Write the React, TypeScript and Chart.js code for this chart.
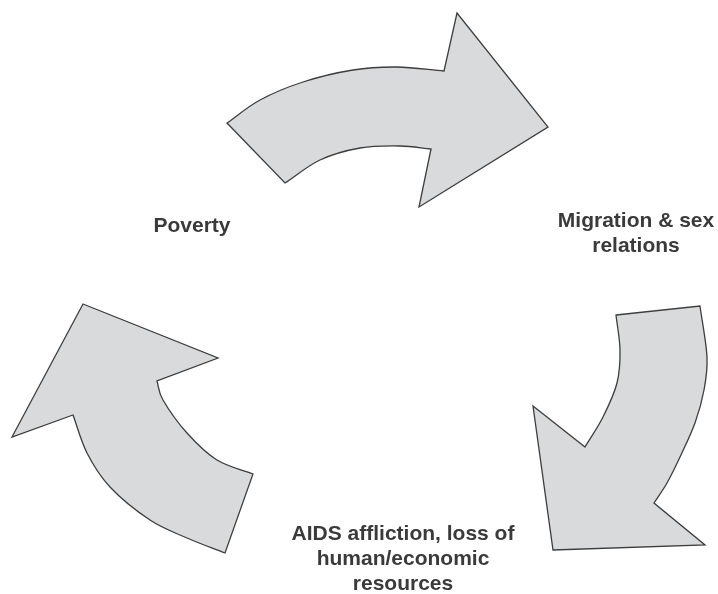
import React, { useEffect, useRef } from "react";
import { Chart, registerables } from "chart.js";

Chart.register(...registerables);

// Outline vertices of each arrow (diagram units = pixels of the reference)
const topArrowX = [227, 260, 303, 353, 397, 444, 457, 548, 419, 431, 400, 360, 320, 285];
const topArrowY = [123, 100, 82, 70, 67, 71, 13, 127, 207, 149, 146, 148, 160, 183];
const topArrowSmooth = [0, 1, 1, 1, 1, 0, 0, 0, 0, 0, 1, 1, 1, 0];

const rightArrowX = [616, 700, 707, 704, 695, 680, 667, 654, 705, 553, 533, 585, 603, 617, 620];
const rightArrowY = [315, 306, 357, 390, 423, 457, 483, 503, 545, 550, 406, 447, 417, 383, 350];
const rightArrowSmooth = [0, 0, 1, 1, 1, 1, 1, 0, 0, 0, 0, 0, 1, 1, 1];

const leftArrowX = [83, 218, 157, 163, 187, 217, 253, 225, 187, 150, 110, 87, 73, 12];
const leftArrowY = [304, 358, 381, 400, 433, 460, 474, 553, 538, 520, 487, 453, 415, 437];
const leftArrowSmooth = [0, 0, 0, 1, 1, 1, 0, 0, 1, 1, 1, 1, 0, 0];

// Text labels
const povertyLines = ["Poverty"];
const migrationLines = ["Migration & sex", "relations"];
const aidsLines = ["AIDS affliction, loss of", "human/economic", "resources"];

// Label anchors (centre x, first baseline y) in diagram units
const labelAnchors = [
  { lines: povertyLines, x: 192, y: 232 },
  { lines: migrationLines, x: 636, y: 227 },
  { lines: aidsLines, x: 403, y: 540 },
];

const FILL = "#d9dadc";
const STROKE = "#3d3d3d";
const TEXT = "#3a3a3a";
const FONT = "bold 21px 'Liberation Sans', Arial, sans-serif";
const LINE_GAP = 25;

const arrowPlugin = {
  id: "arrowShapes",
  beforeDatasetsDraw(chart: any) {
    const ctx = chart.ctx as CanvasRenderingContext2D;
    chart.data.datasets.forEach((ds: any, i: number) => {
      const meta = chart.getDatasetMeta(i);
      const pts = meta.data.map((e: any) => ({ x: e.x, y: e.y }));
      const sm: number[] = ds.smooth;
      const n = pts.length;
      ctx.save();
      ctx.beginPath();
      ctx.moveTo(pts[0].x, pts[0].y);
      for (let k = 0; k < n; k++) {
        const a = pts[k];
        const b = pts[(k + 1) % n];
        const prev = pts[(k - 1 + n) % n];
        const nxt = pts[(k + 2) % n];
        const sa = sm[k];
        const sb = sm[(k + 1) % n];
        if (!sa && !sb) {
          ctx.lineTo(b.x, b.y);
        } else {
          const c1 = sa
            ? { x: a.x + (b.x - prev.x) / 6, y: a.y + (b.y - prev.y) / 6 }
            : { x: a.x + (b.x - a.x) / 3, y: a.y + (b.y - a.y) / 3 };
          const c2 = sb
            ? { x: b.x - (nxt.x - a.x) / 6, y: b.y - (nxt.y - a.y) / 6 }
            : { x: b.x - (b.x - a.x) / 3, y: b.y - (b.y - a.y) / 3 };
          ctx.bezierCurveTo(c1.x, c1.y, c2.x, c2.y, b.x, b.y);
        }
      }
      ctx.closePath();
      ctx.fillStyle = ds.fillColor;
      ctx.fill();
      ctx.strokeStyle = ds.strokeColor;
      ctx.lineWidth = ds.strokeWidth;
      ctx.lineJoin = "miter";
      ctx.stroke();
      ctx.restore();
    });
  },
  afterDatasetsDraw(chart: any) {
    const ctx = chart.ctx as CanvasRenderingContext2D;
    const xs = chart.scales.x;
    const ys = chart.scales.y;
    ctx.save();
    ctx.font = FONT;
    ctx.fillStyle = TEXT;
    ctx.textAlign = "center";
    ctx.textBaseline = "alphabetic";
    labelAnchors.forEach((lab) => {
      const px = xs.getPixelForValue(lab.x);
      lab.lines.forEach((line, j) => {
        const py = ys.getPixelForValue(lab.y + j * LINE_GAP);
        ctx.fillText(line, px, py);
      });
    });
    ctx.restore();
  },
};

function toPoints(xs: number[], ys: number[]) {
  return xs.map((x, i) => ({ x, y: ys[i] }));
}

export default function App() {
  const ref = useRef<HTMLCanvasElement | null>(null);
  useEffect(() => {
    if (!ref.current) return;
    const mk = (xs: number[], ys: number[], smooth: number[]) => ({
      data: toPoints(xs, ys),
      smooth,
      fillColor: FILL,
      strokeColor: STROKE,
      strokeWidth: 1.3,
      pointRadius: 0,
      pointHoverRadius: 0,
      showLine: false,
    });
    const chart = new Chart(ref.current, {
      type: "scatter",
      data: {
        datasets: [
          mk(topArrowX, topArrowY, topArrowSmooth),
          mk(rightArrowX, rightArrowY, rightArrowSmooth),
          mk(leftArrowX, leftArrowY, leftArrowSmooth),
        ] as any,
      },
      options: {
        animation: false,
        responsive: false,
        maintainAspectRatio: false,
        layout: { padding: 0 },
        events: [],
        scales: {
          x: { type: "linear", min: 0, max: 718, display: false },
          y: { type: "linear", min: 0, max: 594, reverse: true, display: false },
        },
        plugins: { legend: { display: false }, tooltip: { enabled: false } },
      },
      plugins: [arrowPlugin],
    });
    return () => chart.destroy();
  }, []);
  return (
    <div style={{ position: "absolute", left: 0, top: 0, width: 718, height: 594, background: "#ffffff" }}>
      <canvas ref={ref} width={718} height={594} />
    </div>
  );
}
